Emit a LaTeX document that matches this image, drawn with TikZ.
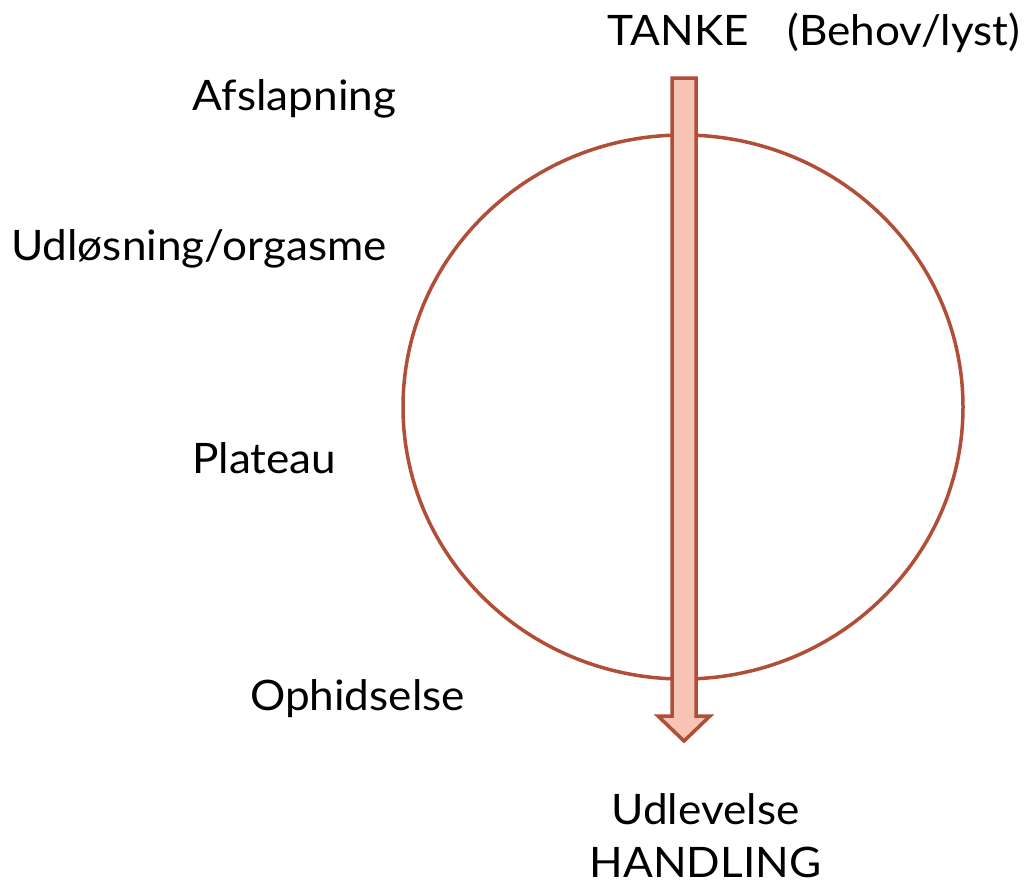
\documentclass[tikz,border=0pt]{standalone}
\usepackage{fontspec}
\setmainfont{Lato}[FakeStretch=1.05]
\definecolor{rust}{HTML}{B04E38}
\definecolor{pinkfill}{HTML}{F7C4B6}
\begin{document}
\begin{tikzpicture}[x=1pt,y=1pt,
  lbl/.style={inner sep=0pt, anchor=base, font=\fontsize{42}{50}\selectfont, text=black},
  ring/.style={draw=rust, line width=3.5pt},
  arrowshape/.style={draw=rust, fill=pinkfill, line width=3.5pt, line join=miter}]
\useasboundingbox (0,0) rectangle (1026,-884);
\draw[ring] (683,-407) ellipse [x radius=280, y radius=272];
\draw[arrowshape] (672,-78) -- (696,-78) -- (696,-716) -- (710,-716) -- (684,-741) -- (658,-716) -- (672,-716) -- cycle;
\node[lbl] (tanke) at (678.5,-45) {TANKE};
\node[lbl] (behov) at (904,-45) {(Behov/lyst)};
\node[lbl] (afsl) at (294.5,-110) {Afslapning};
\node[lbl] (udl) at (199,-260) {Udløsning/orgasme};
\node[lbl] (plat) at (264.5,-473) {Plateau};
\node[lbl] (ophid) at (357.5,-710) {Ophidselse};
\node[lbl] (udlev) at (705.5,-824) {Udlevelse};
\node[lbl] (handl) at (705.5,-877) {HANDLING};
\end{tikzpicture}
\end{document}
